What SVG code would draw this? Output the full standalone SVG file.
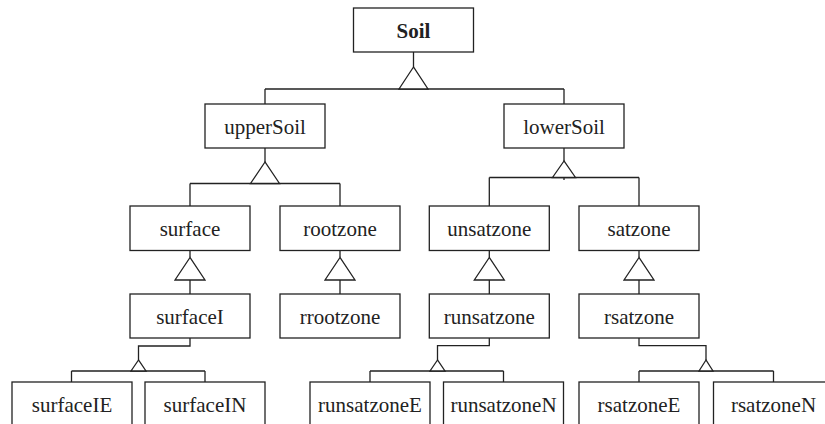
<svg xmlns="http://www.w3.org/2000/svg" width="825" height="424" viewBox="0 0 825 424">
<style>
.box{fill:#fff;stroke:#222;stroke-width:1.3}
.lbl{font-family:"Liberation Serif","Times New Roman",serif;font-size:21px;fill:#222;text-anchor:middle}
.b{font-weight:bold}
.c{fill:none;stroke:#222;stroke-width:1.3}
.t{fill:#fff;stroke:#222;stroke-width:1.3;stroke-linejoin:miter}
</style>
<rect width="825" height="424" fill="#fff"/>
<g id="connectors">
<path class="c" d="M413.5,52V67M265,89H564M265,89V104M564,89V104"/>
<polygon class="t" points="413.5,67 399,89 428,89"/>
<path class="c" d="M265,148V162M190,183.5H340M190,183.5V206M340,183.5V206"/>
<polygon class="t" points="265,162 250.5,183.5 279.5,183.5"/>
<path class="c" d="M564,148V161M489.3,177.5H639M489.3,177.5V206M639,177.5V206M564,177.5V180"/>
<polygon class="t" points="564,161 552.5,177.5 575.5,177.5"/>
<path class="c" d="M190,250.5V257.5M190,280V294M340,250.5V257.5M340,280V294M489.3,250.5V257.5M489.3,280V294M639,250.5V257.5M639,280V294"/>
<polygon class="t" points="190,257.5 175,280 205,280"/>
<polygon class="t" points="340,257.5 325,280 355,280"/>
<polygon class="t" points="489.3,257.5 474.3,280 504.3,280"/>
<polygon class="t" points="639,257.5 624,280 654,280"/>
<path class="c" d="M190,338V346H138.5V360M71.5,371H205M71.5,371V382M205,371V382"/>
<polygon class="t" points="138.5,360 131,371 146,371"/>
<path class="c" d="M489.3,338V345.7H437.5V360M370,371H503.5M370,371V382M503.5,371V382"/>
<polygon class="t" points="437.5,360 430,371 445,371"/>
<path class="c" d="M639,338V345.7H706V360M639,371H773.5M639,371V382M773.5,371V382"/>
<polygon class="t" points="706,360 699,371 713,371"/>
</g>
<g id="Soil"><rect class="box" x="353.5" y="8" width="120" height="44"/><text class="lbl b" x="413.5" y="37.5">Soil</text></g>
<g id="upperSoil"><rect class="box" x="205" y="104" width="120" height="44"/><text class="lbl" x="265" y="133.5">upperSoil</text></g>
<g id="lowerSoil"><rect class="box" x="504" y="104" width="120" height="44"/><text class="lbl" x="564" y="133.5">lowerSoil</text></g>
<g id="surface"><rect class="box" x="130" y="206" width="120" height="44.5"/><text class="lbl" x="190" y="235.5">surface</text></g>
<g id="rootzone"><rect class="box" x="280" y="206" width="120" height="44.5"/><text class="lbl" x="340" y="235.5">rootzone</text></g>
<g id="unsatzone"><rect class="box" x="429.3" y="206" width="120" height="44.5"/><text class="lbl" x="489.3" y="235.5">unsatzone</text></g>
<g id="satzone"><rect class="box" x="579" y="206" width="120" height="44.5"/><text class="lbl" x="639" y="235.5">satzone</text></g>
<g id="surfaceI"><rect class="box" x="130" y="294" width="120" height="44"/><text class="lbl" x="190" y="323.5">surfaceI</text></g>
<g id="rrootzone"><rect class="box" x="280" y="294" width="120" height="44"/><text class="lbl" x="340" y="323.5">rrootzone</text></g>
<g id="runsatzone"><rect class="box" x="429.3" y="294" width="120" height="44"/><text class="lbl" x="489.3" y="323.5">runsatzone</text></g>
<g id="rsatzone"><rect class="box" x="579" y="294" width="120" height="44"/><text class="lbl" x="639" y="323.5">rsatzone</text></g>
<g id="surfaceIE"><rect class="box" x="12" y="382" width="120" height="44"/><text class="lbl" x="72" y="411.5">surfaceIE</text></g>
<g id="surfaceIN"><rect class="box" x="145" y="382" width="120" height="44"/><text class="lbl" x="205" y="411.5">surfaceIN</text></g>
<g id="runsatzoneE"><rect class="box" x="310" y="382" width="120" height="44"/><text class="lbl" x="370" y="411.5">runsatzoneE</text></g>
<g id="runsatzoneN"><rect class="box" x="443.5" y="382" width="120" height="44"/><text class="lbl" x="503.5" y="411.5">runsatzoneN</text></g>
<g id="rsatzoneE"><rect class="box" x="579" y="382" width="120" height="44"/><text class="lbl" x="639" y="411.5">rsatzoneE</text></g>
<g id="rsatzoneN"><rect class="box" x="713.5" y="382" width="120" height="44"/><text class="lbl" x="773.5" y="411.5">rsatzoneN</text></g>
</svg>
